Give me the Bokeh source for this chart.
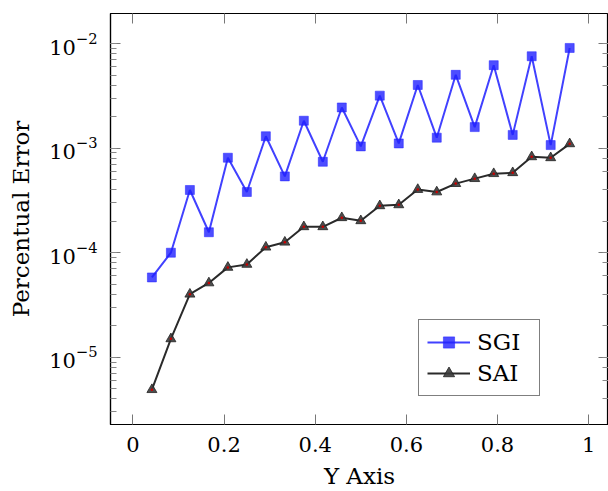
from bokeh.plotting import figure
from bokeh.models import LinearAxis, LogAxis, Legend, LegendItem, Range1d, FixedTicker
from bokeh.embed import file_html
from bokeh.resources import INLINE

x_vals = [1/24, 2/24, 3/24, 4/24, 5/24, 6/24, 7/24, 8/24, 9/24, 10/24, 11/24, 12/24,
          13/24, 14/24, 15/24, 16/24, 17/24, 18/24, 19/24, 20/24, 21/24, 22/24, 23/24]
sgi = [5.8e-5, 1.0e-4, 3.98e-4, 1.57e-4, 8.1e-4, 3.81e-4, 1.30e-3, 5.37e-4, 1.83e-3,
       7.41e-4, 2.45e-3, 1.04e-3, 3.18e-3, 1.11e-3, 4.02e-3, 1.26e-3, 5.03e-3, 1.59e-3,
       6.22e-3, 1.34e-3, 7.57e-3, 1.07e-3, 9.09e-3]
sai = [4.9e-6, 1.5e-5, 4.01e-5, 5.14e-5, 7.24e-5, 7.73e-5, 1.13e-4, 1.26e-4, 1.77e-4,
       1.77e-4, 2.16e-4, 2.02e-4, 2.81e-4, 2.87e-4, 4.02e-4, 3.81e-4, 4.58e-4, 5.11e-4,
       5.70e-4, 5.82e-4, 8.26e-4, 8.09e-4, 1.10e-3]
x_ticks = [0, 0.2, 0.4, 0.6, 0.8, 1.0]
x_tick_labels = {0: "0", 0.2: "0.2", 0.4: "0.4", 0.6: "0.6", 0.8: "0.8", 1.0: "1"}

FONT = "DejaVu Serif"

p = figure(width=608, height=491, y_axis_type="log",
           x_range=Range1d(-0.0492, 1.0435), y_range=Range1d(10**-5.643, 10**-1.712),
           output_backend="svg", toolbar_location=None,
           min_border_left=110, min_border_right=0, min_border_top=13, min_border_bottom=64)
p.grid.visible = False
p.outline_line_color = "black"
p.outline_line_width = 1.2

def style_axis(ax, show_labels=True):
    ax.major_tick_in = 10
    ax.major_tick_out = 0
    ax.minor_tick_in = 6
    ax.minor_tick_out = 0
    ax.major_tick_line_color = "#777777"
    ax.minor_tick_line_color = "#888888"
    ax.axis_line_color = "black"
    ax.axis_line_width = 1.2
    if show_labels:
        ax.major_label_text_font = FONT
        ax.major_label_text_font_size = "21px"
        ax.major_label_text_color = "black"
        ax.axis_label_text_font = FONT
        ax.axis_label_text_font_size = "23px"
        ax.axis_label_text_font_style = "normal"
        ax.axis_label_text_color = "black"
    else:
        ax.major_label_text_font_size = "1px"
        ax.major_label_text_alpha = 0
        ax.major_label_standoff = 0
        ax.axis_line_color = None

xa = p.xaxis[0]
xa.ticker = FixedTicker(ticks=x_ticks)
xa.major_label_overrides = x_tick_labels
style_axis(xa)
xa.major_label_standoff = 12
xa.axis_label = "Y Axis"
xa.axis_label_standoff = 8

ya = p.yaxis[0]
style_axis(ya)
ya.major_label_standoff = 13
ya.axis_label = "Percentual Error"
ya.axis_label_standoff = 12

top = LinearAxis(ticker=FixedTicker(ticks=x_ticks), major_label_overrides=x_tick_labels)
style_axis(top, show_labels=False)
p.add_layout(top, "above")
right = LogAxis()
style_axis(right, show_labels=False)
p.add_layout(right, "right")

blue = "#2020ff"
l1 = p.line(x_vals, sgi, line_color=blue, line_width=2, line_alpha=0.85)
s1 = p.scatter(x_vals, sgi, marker="square", size=9, fill_color=blue, fill_alpha=0.8,
               line_color=blue, line_alpha=0.5)
l2 = p.line(x_vals, sai, line_color="#2a2a2a", line_width=2)
s2 = p.scatter(x_vals, sai, marker="triangle", size=10, fill_color="#3a3a3a", fill_alpha=0.9,
               line_color="#222222", line_alpha=0.8)
s3 = p.scatter(x_vals, sai, marker="circle", size=2.5, fill_color="#cc0000", line_color=None)

legend = Legend(items=[LegendItem(label="SGI", renderers=[l1, s1]),
                       LegendItem(label="SAI", renderers=[l2, s2])],
                location=(308, 28))
legend.label_text_font = FONT
legend.label_text_font_size = "23px"
legend.label_text_color = "black"
legend.glyph_width = 43
legend.glyph_height = 28
legend.label_height = 28
legend.label_width = 54
legend.label_standoff = 7
legend.padding = 8
legend.spacing = 3
legend.margin = 0
legend.border_line_color = "black"
legend.border_line_width = 1.2
legend.background_fill_alpha = 1
p.add_layout(legend, "center")

open("out.html", "w").write(file_html(p, INLINE))
